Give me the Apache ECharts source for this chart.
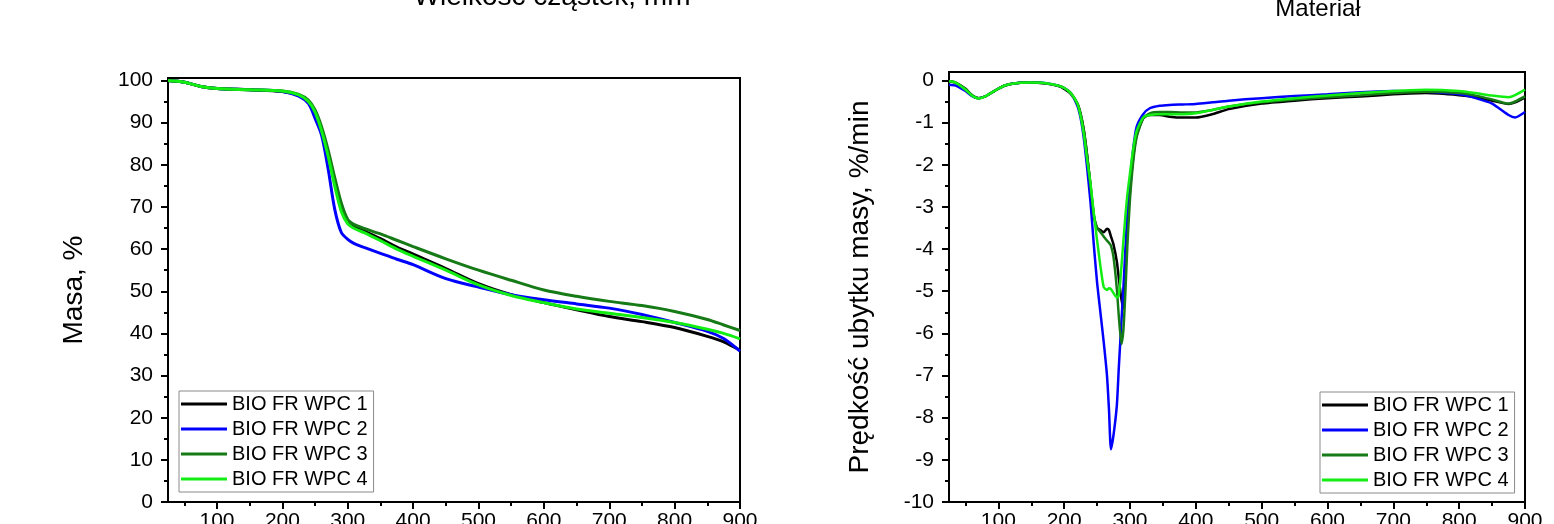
<!DOCTYPE html>
<html><head><meta charset="utf-8">
<script src="https://cdn.jsdelivr.net/npm/echarts@6/dist/echarts.min.js"></script>
<style>html,body{margin:0;padding:0;background:#fff}#c{width:1554px;height:524px}</style>
</head><body><div id="c"></div>
<script>
const seriesNames = ['BIO FR WPC 1', 'BIO FR WPC 2', 'BIO FR WPC 3', 'BIO FR WPC 4'];
const seriesColors = ['#000000', '#0000ff', '#167a16', '#12ee12'];

// TG: mass, % vs temperature
const tgTemp = [25, 50, 75, 100, 150, 200, 225, 240, 250, 260, 270, 280, 290, 300, 310, 325, 350, 375, 400, 450, 500, 550, 600, 650, 700, 750, 800, 850, 875, 900];
const tgWPC1 = [100, 99.6, 98.6, 98.1, 97.8, 97.4, 96.5, 95, 92.5, 88, 82.5, 76, 70, 66.5, 65.3, 64.3, 62.5, 60.5, 58.8, 55.4, 51.8, 49.2, 47.3, 45.6, 44, 42.8, 41.4, 39.3, 38, 36];
const tgWPC2 = [100, 99.6, 98.6, 98.1, 97.8, 97.4, 96.3, 94.5, 91, 87, 79, 69.5, 64, 62.3, 61.3, 60.4, 59, 57.6, 56.3, 53, 51, 49.2, 48, 47, 46, 44.5, 42.6, 40.5, 38.8, 35.8];
const tgWPC3 = [100, 99.6, 98.6, 98.1, 97.8, 97.5, 96.7, 95.3, 93, 89, 83.5, 77, 71, 67, 65.8, 64.9, 63.6, 62.1, 60.6, 57.7, 55, 52.6, 50.3, 48.8, 47.6, 46.6, 45.2, 43.3, 42, 40.7];
const tgWPC4 = [100, 99.6, 98.6, 98.1, 97.8, 97.5, 96.6, 95, 92.5, 88, 82, 75, 69, 66, 64.9, 63.9, 62, 60, 58.3, 55, 51.5, 49, 47.3, 45.8, 44.8, 43.8, 42.6, 41, 40, 38.7];

// DTG: rate of mass loss, %/min vs temperature
const dtgTemp = [25, 35, 50, 60, 70, 80, 95, 110, 130, 150, 170, 190, 200, 210, 220, 225, 230, 235, 240, 245, 250, 255, 260, 265, 268, 271, 275, 280, 283, 287, 290, 293, 296, 300, 305, 310, 320, 330, 345, 360, 380, 400, 425, 450, 500, 550, 600, 650, 700, 750, 800, 825, 850, 875, 885, 900];
const dtgWPC1 = [-0.02, -0.05, -0.2, -0.35, -0.42, -0.38, -0.24, -0.12, -0.06, -0.05, -0.07, -0.13, -0.2, -0.32, -0.55, -0.8, -1.2, -1.8, -2.5, -3.2, -3.5, -3.55, -3.6, -3.52, -3.55, -3.7, -3.9, -4.3, -4.7, -5.2, -5.4, -4.3, -3.4, -2.6, -1.8, -1.3, -0.9, -0.82, -0.82, -0.86, -0.88, -0.88, -0.8, -0.68, -0.55, -0.48, -0.42, -0.38, -0.33, -0.3, -0.35, -0.4, -0.48, -0.56, -0.52, -0.4];
const dtgWPC2 = [-0.1, -0.12, -0.25, -0.37, -0.42, -0.38, -0.24, -0.12, -0.06, -0.05, -0.06, -0.12, -0.18, -0.3, -0.6, -0.9, -1.4, -2.1, -2.9, -3.9, -4.8, -5.5, -6.2, -7.0, -7.8, -8.75, -8.4, -7.7, -6.8, -5.7, -4.9, -4.0, -3.2, -2.4, -1.6, -1.1, -0.8, -0.66, -0.6, -0.58, -0.57, -0.56, -0.52, -0.48, -0.42, -0.37, -0.33, -0.28, -0.25, -0.27, -0.33, -0.42, -0.55, -0.82, -0.88, -0.75];
const dtgWPC3 = [-0.02, -0.05, -0.2, -0.35, -0.42, -0.38, -0.24, -0.12, -0.06, -0.05, -0.07, -0.12, -0.18, -0.3, -0.55, -0.8, -1.2, -1.8, -2.5, -3.2, -3.5, -3.6, -3.7, -3.8, -3.85, -3.92, -4.2, -4.95, -5.6, -6.25, -5.9, -5.0, -3.9, -2.8, -1.9, -1.35, -0.9, -0.78, -0.75, -0.75, -0.76, -0.76, -0.7, -0.62, -0.52, -0.45, -0.4, -0.35, -0.3, -0.27, -0.3, -0.36, -0.45, -0.55, -0.5, -0.38];
const dtgWPC4 = [-0.02, -0.05, -0.22, -0.36, -0.43, -0.38, -0.24, -0.12, -0.06, -0.05, -0.06, -0.12, -0.18, -0.3, -0.55, -0.85, -1.3, -1.9, -2.45, -3.15, -3.8, -4.4, -4.9, -4.97, -4.93, -4.95, -5.05, -5.15, -5.1, -4.4, -3.8, -3.2, -2.7, -2.2, -1.6, -1.2, -0.88, -0.82, -0.8, -0.8, -0.8, -0.78, -0.7, -0.62, -0.5, -0.42, -0.36, -0.3, -0.25, -0.22, -0.25, -0.3, -0.36, -0.4, -0.35, -0.22];

// tick labels
const tempTicks = [100, 200, 300, 400, 500, 600, 700, 800, 900];
const tempMinorTicks = [50, 150, 250, 350, 450, 550, 650, 750, 850];
const massTicks = [0, 10, 20, 30, 40, 50, 60, 70, 80, 90, 100];
const massMinorTicks = [5, 15, 25, 35, 45, 55, 65, 75, 85, 95];
const rateTicks = [-10, -9, -8, -7, -6, -5, -4, -3, -2, -1, 0];
const rateMinorTicks = [-9.5, -8.5, -7.5, -6.5, -5.5, -4.5, -3.5, -2.5, -1.5, -0.5];

const FONT = 'Liberation Sans, Arial, sans-serif';
const zip = (xs, ys) => xs.map((x, i) => [x, ys[i]]);
const tgSets = [tgWPC1, tgWPC2, tgWPC3, tgWPC4];
const dtgSets = [dtgWPC1, dtgWPC2, dtgWPC3, dtgWPC4];

function majorX(grid) {
  return {
    type: 'value', gridIndex: grid, position: 'bottom', min: 25, max: 900,
    axisLine: { show: true, onZero: false, lineStyle: { color: '#000', width: 2 } },
    axisTick: { show: true, customValues: tempTicks, length: 7, lineStyle: { color: '#000', width: 2 } },
    axisLabel: { customValues: tempTicks, fontSize: 21, color: '#000', fontFamily: FONT, margin: 9 },
    splitLine: { show: false }
  };
}
function minorX(grid) {
  return {
    type: 'value', gridIndex: grid, position: 'bottom', min: 25, max: 900,
    axisLine: { show: false, onZero: false },
    axisTick: { show: true, customValues: tempMinorTicks, length: 4, lineStyle: { color: '#000', width: 2 } },
    axisLabel: { show: false },
    splitLine: { show: false }
  };
}
function majorY(grid, min, max, ticks, name, gap) {
  return {
    type: 'value', gridIndex: grid, position: 'left', min: min, max: max,
    name: name, nameLocation: 'middle', nameGap: gap,
    nameTextStyle: { fontSize: 28, color: '#000', fontFamily: FONT },
    axisLine: { show: true, onZero: false, lineStyle: { color: '#000', width: 2 } },
    axisTick: { show: true, customValues: ticks, length: 7, lineStyle: { color: '#000', width: 2 } },
    axisLabel: { customValues: ticks, fontSize: 21, color: '#000', fontFamily: FONT, margin: 15 },
    splitLine: { show: false }
  };
}
function minorY(grid, min, max, ticks) {
  return {
    type: 'value', gridIndex: grid, position: 'left', min: min, max: max,
    axisLine: { show: false, onZero: false },
    axisTick: { show: true, customValues: ticks, length: 4, lineStyle: { color: '#000', width: 2 } },
    axisLabel: { show: false },
    splitLine: { show: false }
  };
}
function legend(left, top) {
  return {
    orient: 'vertical', left: left, top: top, data: seriesNames,
    icon: 'rect', itemWidth: 46, itemHeight: 3, itemGap: 5,
    padding: [3, 6, 3, 2], borderColor: '#8a8a8a', borderWidth: 1,
    textStyle: { fontSize: 20, color: '#000', fontFamily: FONT }
  };
}

const series = [];
seriesNames.forEach((n, i) => {
  series.push({ name: n, type: 'line', xAxisIndex: 0, yAxisIndex: 0, data: zip(tgTemp, tgSets[i]),
    symbol: 'none', smooth: 0.3, lineStyle: { width: 3, color: seriesColors[i] }, itemStyle: { color: seriesColors[i] } });
});
seriesNames.forEach((n, i) => {
  series.push({ name: n, type: 'line', xAxisIndex: 2, yAxisIndex: 2, data: zip(dtgTemp, dtgSets[i]),
    symbol: 'none', smooth: 0.2, lineStyle: { width: 2.5, color: seriesColors[i] }, itemStyle: { color: seriesColors[i] } });
});

const chart = echarts.init(document.getElementById('c'), null, { renderer: 'canvas' });
chart.setOption({
  animation: false,
  backgroundColor: '#fff',
  textStyle: { fontFamily: FONT },
  title: [
    { text: 'Wielkość cząstek, mm', left: 547, top: -22, textAlign: 'center',
      textStyle: { fontSize: 28, fontWeight: 'normal', color: '#000', fontFamily: FONT } },
    { text: 'Materiał', left: 1313, top: -8, textAlign: 'center',
      textStyle: { fontSize: 24, fontWeight: 'normal', color: '#000', fontFamily: FONT } }
  ],
  grid: [
    { left: 168, right: 814, top: 78, bottom: 22, show: true, borderColor: '#000', borderWidth: 2, backgroundColor: 'transparent', outerBoundsMode: 'none', containLabel: false },
    { left: 949, right: 29, top: 72, bottom: 22, show: true, borderColor: '#000', borderWidth: 2, backgroundColor: 'transparent', outerBoundsMode: 'none', containLabel: false }
  ],
  xAxis: [majorX(0), minorX(0), majorX(1), minorX(1)],
  yAxis: [
    majorY(0, 0, 100.6, massTicks, 'Masa, %', 80),
    minorY(0, 0, 100.6, massMinorTicks),
    majorY(1, -10, 0.2, rateTicks, 'Prędkość ubytku masy, %/min', 75),
    minorY(1, -10, 0.2, rateMinorTicks)
  ],
  legend: [legend(179, 391), legend(1320, 392)],
  series: series
});
</script>
</body></html>
